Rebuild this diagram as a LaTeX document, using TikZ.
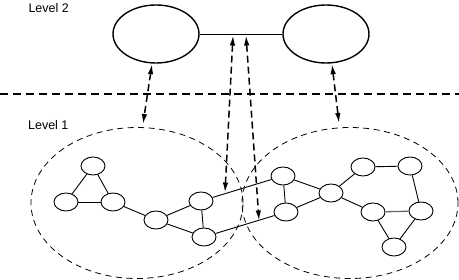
\documentclass[tikz,border=0pt]{standalone}
\usepackage{fontspec}
\setmainfont{Liberation Sans}
\usetikzlibrary{shapes.geometric,arrows.meta}
\begin{document}
\begin{tikzpicture}[x=1pt,y=-1pt,
  vert/.style={draw,ellipse,line width=0.9pt,minimum width=24pt,minimum height=18pt,inner sep=0pt},
  big/.style={draw,ellipse,line width=1.4pt,minimum width=86pt,minimum height=58pt,inner sep=0pt},
  edge/.style={line width=0.9pt},
  region/.style={dashed,line width=0.8pt,dash pattern=on 6pt off 4.5pt},
  link/.style={line width=1.5pt,dash pattern=on 7pt off 4pt,{Latex[length=10pt,width=5.5pt]}-{Latex[length=10pt,width=5.5pt]}},
  lbl/.style={font=\fontsize{12.5}{14}\selectfont,inner sep=0pt}]
\useasboundingbox (0,0) rectangle (459,280);
% labels
\node[lbl] (l2) at (48.7,8.4) {Level 2};
\node[lbl] (l1) at (48.3,125) {Level 1};
% level 2
\node[big] (A) at (156,34) {};
\node[big] (B) at (326,34) {};
\draw[edge] (A) -- (B);
% separator
\draw[line width=1.6pt,dash pattern=on 8pt off 5pt] (0,94) -- (459,94);
% regions
\draw[region] (137,203) ellipse [x radius=106pt, y radius=75.5pt];
\draw[region] (350,203) ellipse [x radius=108pt, y radius=75.5pt];
% left graph
\node[vert] (n1) at (93,166) {};
\node[vert] (n2) at (66,202) {};
\node[vert] (n3) at (113,202) {};
\node[vert] (n4) at (156,220) {};
\node[vert] (n5) at (201,201) {};
\node[vert] (n6) at (204,237) {};
% right graph
\node[vert] (r1) at (283,176) {};
\node[vert] (r2) at (286,212) {};
\node[vert] (r3) at (331,193) {};
\node[vert] (r4) at (363,167) {};
\node[vert] (r5) at (410,166) {};
\node[vert] (r6) at (373,212) {};
\node[vert] (r7) at (421,211) {};
\node[vert] (r8) at (394,247) {};
\draw[edge] (n1) -- (n2); \draw[edge] (n1) -- (n3); \draw[edge] (n2) -- (n3);
\draw[edge] (n3) -- (n4); \draw[edge] (n4) -- (n5); \draw[edge] (n4) -- (n6);
\draw[edge] (n5) -- (n6);
\draw[edge] (n5) -- (r1); \draw[edge] (n6) -- (r2);
\draw[edge] (r1) -- (r2); \draw[edge] (r1) -- (r3); \draw[edge] (r2) -- (r3);
\draw[edge] (r3) -- (r4); \draw[edge] (r3) -- (r6); \draw[edge] (r4) -- (r5);
\draw[edge] (r5) -- (r7); \draw[edge,line width=1.3pt,black!60] (r6) -- (r7);
\draw[edge] (r6) -- (r8); \draw[edge] (r7) -- (r8);
% inter-level links
\coordinate (p1) at (143,124);
\coordinate (p2) at (339,123);
\coordinate (t1) at (233,35.5);
\coordinate (t2) at (246,35.5);
\coordinate (b1) at (225,192.5);
\coordinate (b2) at (259,220.5);
\draw[link] (A.south) ++(-4,0.5) coordinate (a1) -- (p1);
\draw[link] (B.south) ++(6,0.5) coordinate (a2) -- (p2);
\draw[link] (t1) -- (b1);
\draw[link] (t2) -- (b2);
\end{tikzpicture}
\end{document}
